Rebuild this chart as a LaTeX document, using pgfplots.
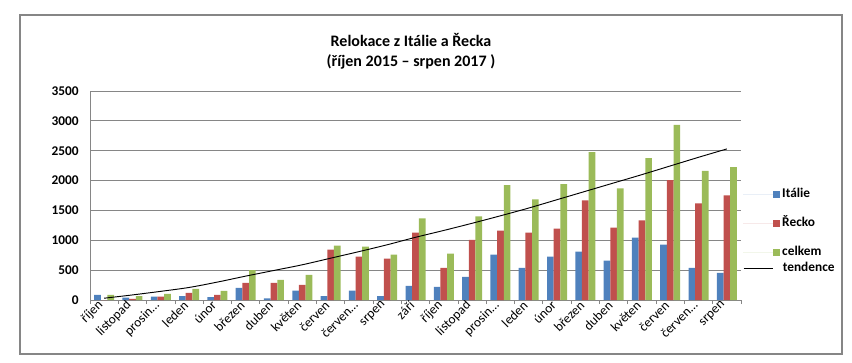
\documentclass[border=0pt]{standalone}
\usepackage{pgfplots}
\pgfplotsset{compat=1.18}
\usepackage{fontspec}
\setmainfont{Carlito}
\definecolor{cIt}{HTML}{4F81BD}
\definecolor{cRe}{HTML}{C0504D}
\definecolor{cCe}{HTML}{9BBB59}
\definecolor{gridc}{HTML}{868686}
\begin{document}
\begin{tikzpicture}
\useasboundingbox (0,0) rectangle (639pt,271.5pt);
\draw[gridc, line width=0.8pt] (15pt,6pt) rectangle (631.5pt,260.25pt);
\node[align=center, font=\bfseries\fontsize{12}{15}\selectfont] at (308.25pt,233pt) {Relokace z Itálie a Řecka\\(říjen 2015 – srpen 2017 )};
\begin{axis}[
  at={(67.5pt,46.5pt)}, anchor=south west,
  scale only axis, width=488.25pt, height=156.75pt,
  ybar,
  xmin=-0.5, xmax=22.5, ymin=0, ymax=3500,
  ytick={0,500,...,3500},
  xtick={0,...,22},
  xticklabels={říjen,listopad,{prosin\ldots},leden,únor,březen,duben,květen,červen,{červen\ldots},srpen,září,říjen,listopad,{prosin\ldots},leden,únor,březen,duben,květen,červen,{červen\ldots},srpen},
  minor xtick={-0.5,0.5,...,22.5},
  major tick length=0pt, minor tick length=3pt, tick align=outside,
  ymajorgrids, grid style={gridc, line width=0.6pt},
  axis x line*=bottom, axis y line*=left,
  axis line style={gridc, line width=0.6pt},
  minor tick style={gridc, line width=0.6pt},
  /pgf/number format/assume math mode=true,
  /pgf/number format/1000 sep={},
  yticklabel style={font=\bfseries\fontsize{10}{12}\selectfont, xshift=-5pt},
  xticklabel style={font=\fontsize{10}{12}\selectfont, rotate=45, anchor=east},
  legend style={at={(1.003,0.536)}, anchor=north west, draw=none, fill=none, inner sep=0pt,
    font=\bfseries\fontsize{10}{12}\selectfont, row sep=12.75pt, column sep=1.5pt,
    nodes={inner sep=0pt, text height=7pt, text depth=2pt}},
  legend cell align=left,
]
\addplot[fill=cIt, draw=none, bar width=5pt, bar shift=-5pt,
  legend image code/.code={\path (0pt,0pt) -- (27.75pt,0pt); \fill[cIt] (22.5pt,-2.6pt) rectangle (27.75pt,2.6pt);}]
  coordinates {(0,85)(1,40)(2,56)(3,67)(4,50)(5,202)(6,28)(7,157)(8,67)(9,157)(10,67)(11,236)(12,219)(13,388)(14,759)(15,540)(16,725)(17,809)(18,658)(19,1045)(20,927)(21,540)(22,455)};
\addlegendentry{Itálie}
\addplot[fill=cRe, draw=none, bar width=5pt, bar shift=0pt,
  legend image code/.code={\path (0pt,0pt) -- (27.75pt,0pt); \fill[cRe] (22.5pt,-2.6pt) rectangle (27.75pt,2.6pt);}]
  coordinates {(0,0)(1,17)(2,56)(3,118)(4,84)(5,287)(6,287)(7,253)(8,843)(9,725)(10,691)(11,1130)(12,540)(13,1006)(14,1163)(15,1130)(16,1197)(17,1669)(18,1214)(19,1332)(20,2006)(21,1619)(22,1753)};
\addlegendentry{Řecko}
\addplot[fill=cCe, draw=none, bar width=5pt, bar shift=5pt,
  legend image code/.code={\path (0pt,0pt) -- (27.75pt,0pt); \fill[cCe] (22.5pt,-2.6pt) rectangle (27.75pt,2.6pt);}]
  coordinates {(0,85)(1,67)(2,101)(3,185)(4,152)(5,500)(6,337)(7,421)(8,910)(9,894)(10,759)(11,1366)(12,776)(13,1399)(14,1922)(15,1686)(16,1939)(17,2478)(18,1871)(19,2377)(20,2934)(21,2163)(22,2226)};
\addlegendentry{celkem}
\addplot[smooth, black, line width=0.7pt, no marks, forget plot]
  coordinates {(0,30)(1,85)(2,145)(3,210)(4,300)(5,400)(6,495)(7,590)(8,700)(9,810)(10,925)(11,1050)(12,1165)(13,1285)(14,1410)(15,1540)(16,1680)(17,1820)(18,1960)(19,2100)(20,2245)(21,2390)(22,2530)};
\end{axis}
\begin{axis}[
  at={(67.5pt,46.5pt)}, anchor=south west,
  scale only axis, width=488.25pt, height=156.75pt,
  hide axis, xmin=0, xmax=1, ymin=0, ymax=1,
  legend style={at={(1.003,0.182)}, anchor=north west, draw=none, fill=none, inner sep=0pt,
    font=\bfseries\fontsize{10}{12}\selectfont, column sep=1.5pt,
    nodes={inner sep=0pt, text height=7pt, text depth=2pt}},
  legend cell align=left,
]
\addlegendimage{legend image code/.code={\draw[black, line width=0.6pt] (0pt,0pt) -- (21.75pt,0pt); \path (27.75pt,0pt);}}
\addlegendentry{tendence}
\end{axis}
\end{tikzpicture}
\end{document}
